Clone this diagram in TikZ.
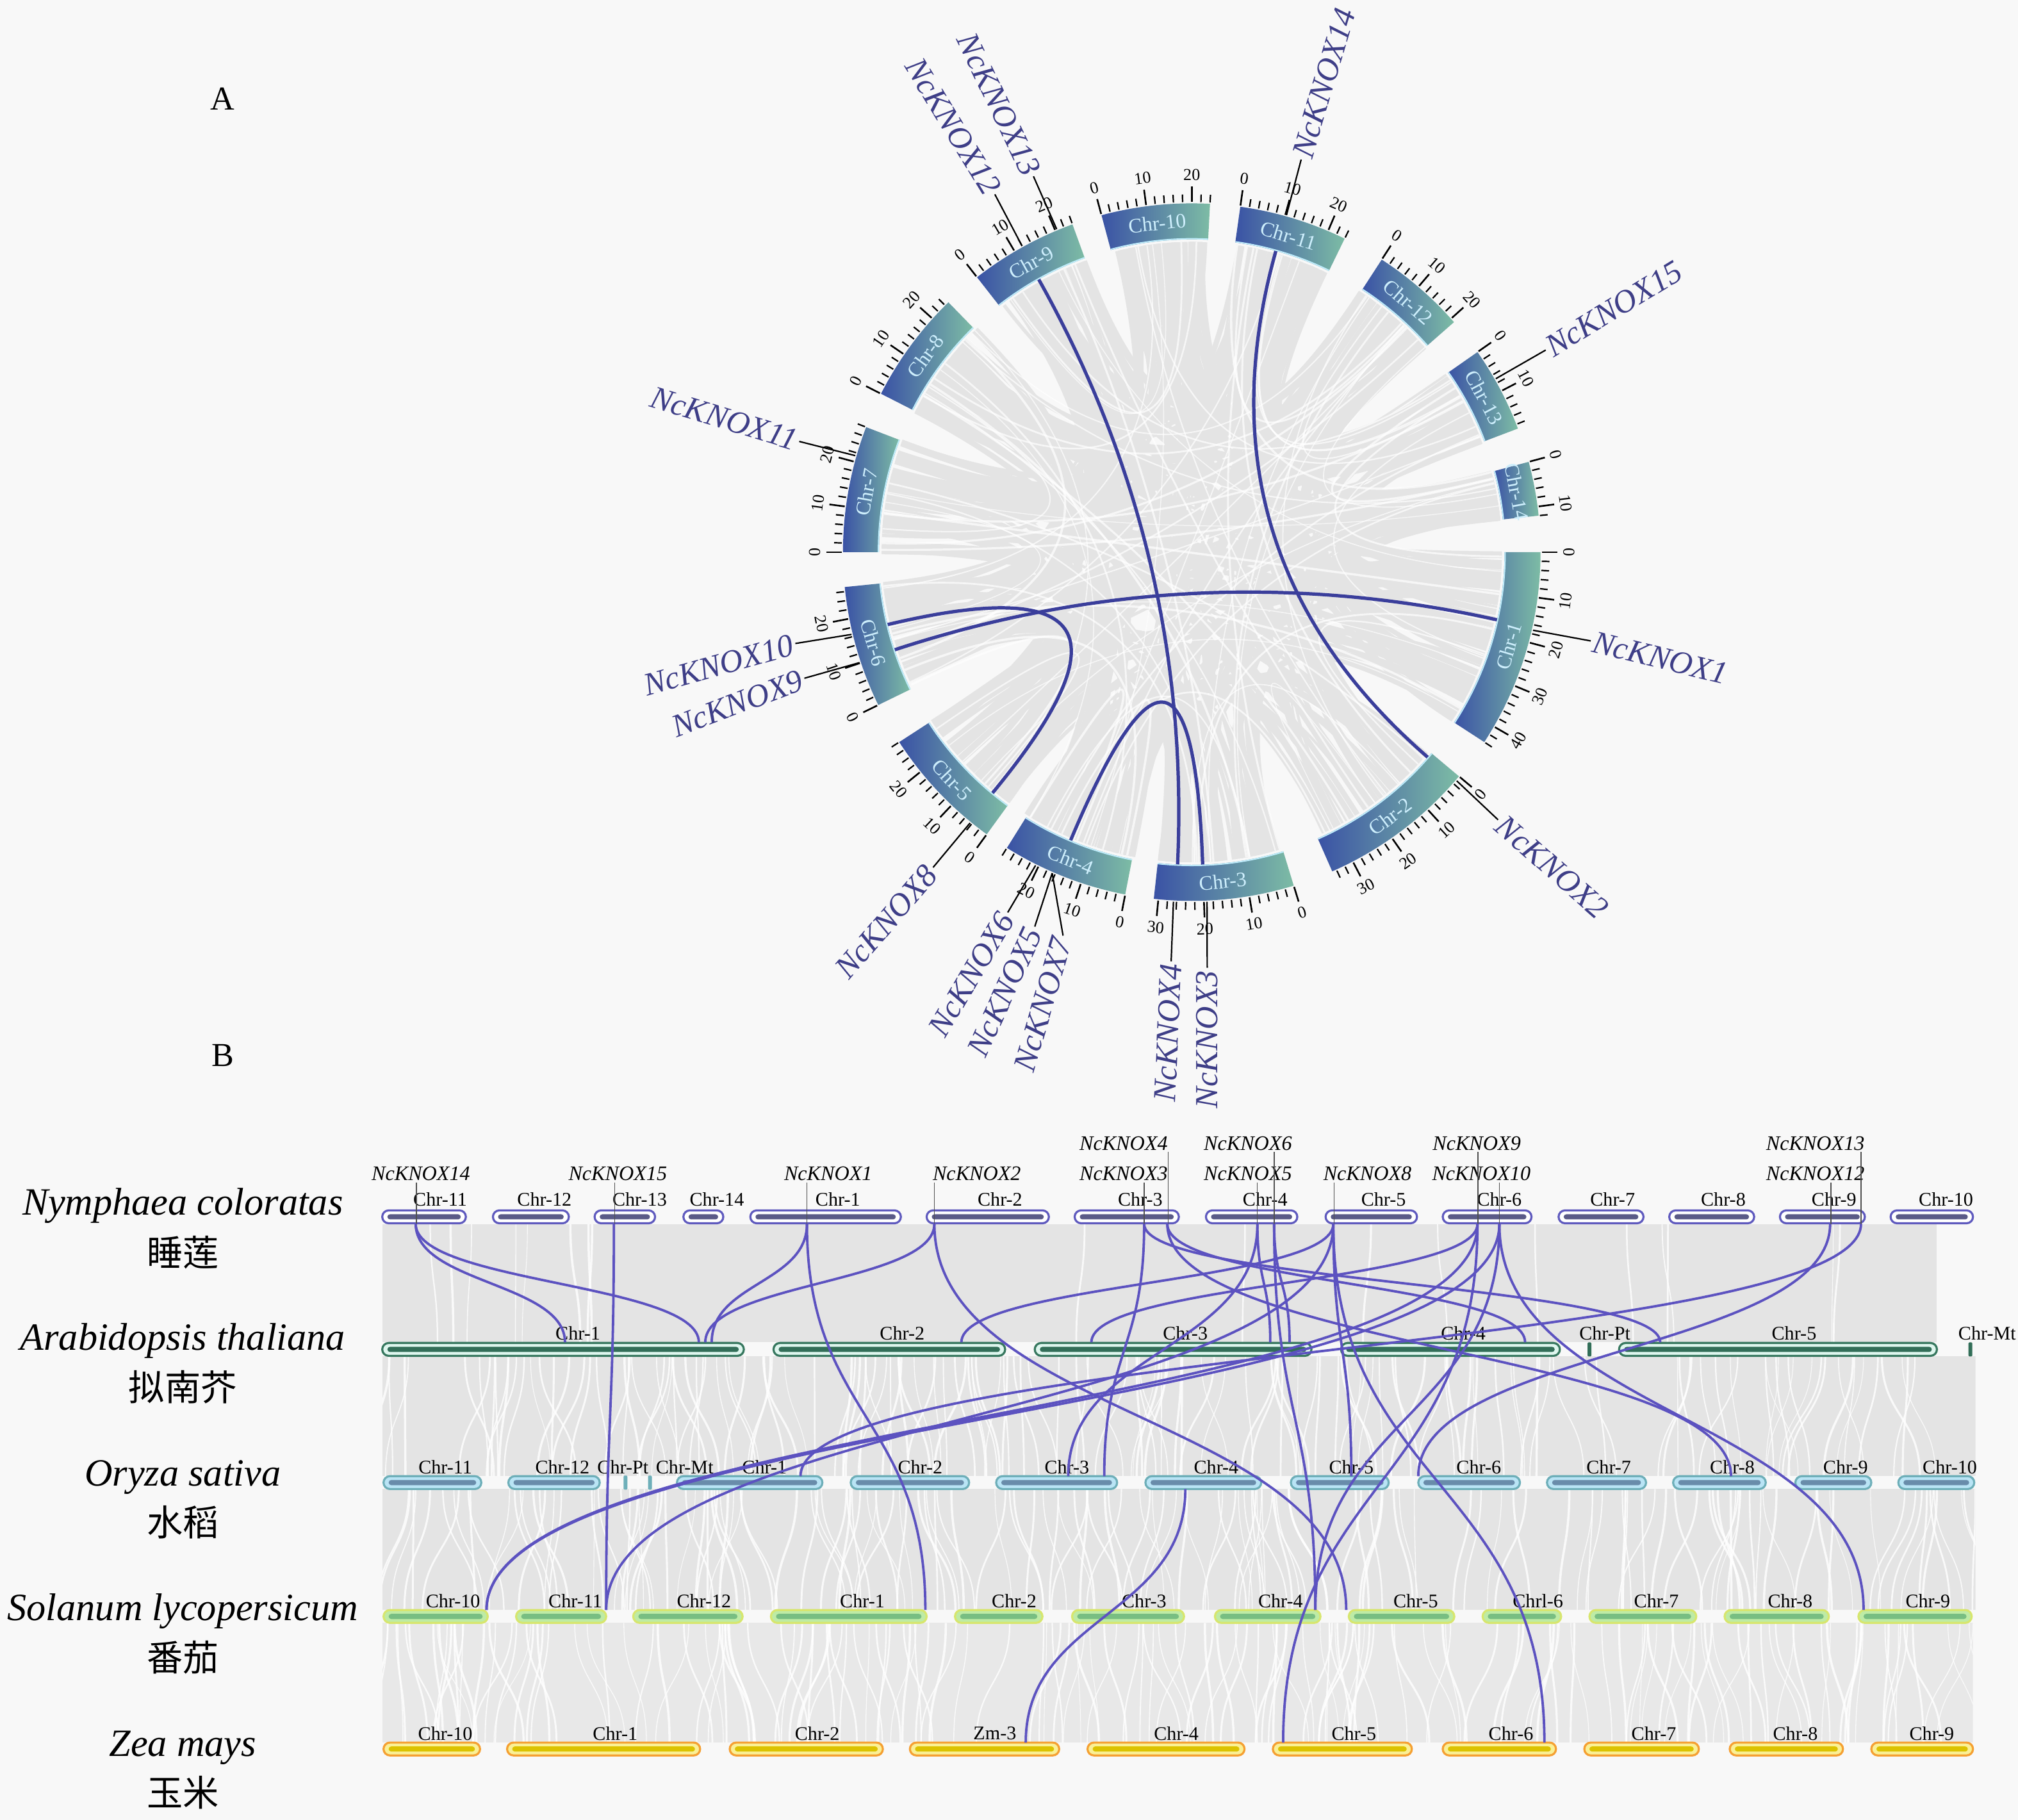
\documentclass[tikz,border=0pt]{standalone}
\usepackage{fontspec}
\setmainfont{Liberation Serif}
\newfontfamily\cjkf{Noto Sans CJK SC}
\usetikzlibrary{calc}
\definecolor{bgc}{RGB}{248,248,248}
\definecolor{ribc}{RGB}{228,228,228}
\definecolor{cA}{RGB}{58,82,165}
\definecolor{cM}{RGB}{92,132,165}
\definecolor{cZ}{RGB}{125,188,165}
\definecolor{rimc}{RGB}{190,235,250}
\definecolor{chrtxt}{RGB}{205,238,252}
\definecolor{glc}{RGB}{62,62,135}
\definecolor{clink}{RGB}{58,62,155}
\definecolor{blinkc}{RGB}{92,82,192}
\definecolor{synbg}{RGB}{228,228,228}
\definecolor{ncE}{RGB}{95,90,190}
\definecolor{ncI}{RGB}{90,90,135}
\definecolor{atE}{RGB}{55,120,95}
\definecolor{atF}{RGB}{222,246,238}
\definecolor{atI}{RGB}{50,110,88}
\definecolor{osE}{RGB}{110,175,185}
\definecolor{osF}{RGB}{185,228,245}
\definecolor{osI}{RGB}{105,140,170}
\definecolor{slE}{RGB}{215,230,110}
\definecolor{slF}{RGB}{190,235,165}
\definecolor{slI}{RGB}{120,190,130}
\definecolor{zmE}{RGB}{245,160,50}
\definecolor{zmF}{RGB}{250,240,150}
\definecolor{zmI}{RGB}{220,195,0}
\tikzset{
  clinkst/.style={draw=clink, line width=2.6pt},
  gline/.style={draw=black, line width=1.1pt},
  glabel/.style={font=\fontsize{25}{25}\selectfont\itshape, text=glc, inner sep=2pt},
  chrname/.style={font=\fontsize{16}{16}\selectfont, text=chrtxt, inner sep=0pt},
  ticklab/.style={font=\fontsize{13}{13}\selectfont, inner sep=0pt},
  tickmaj/.style={draw=black, line width=1.3pt},
  tickmin/.style={draw=black, line width=1.1pt},
  panlab/.style={font=\fontsize{26}{26}\selectfont, inner sep=0pt},
  splab/.style={font=\fontsize{30}{30}\selectfont\itshape, inner sep=0pt},
  cnlab/.style={font=\fontsize{28}{28}\selectfont\cjkf, inner sep=0pt},
  chrlab/.style={font=\fontsize{15}{15}\selectfont, inner sep=0pt},
  bgene/.style={font=\fontsize{16}{16}\selectfont\itshape, inner sep=0pt},
  bgl/.style={draw={rgb,255:red,80;green,80;blue,80}, line width=0.7pt},
  blink/.style={draw=blinkc, line width=1.9pt},
  barout/.style={rectangle, rounded corners=5pt, minimum height=10pt, inner sep=0pt, outer sep=0pt, line width=1.6pt},
  barin/.style={rectangle, rounded corners=2pt, minimum height=4pt, inner sep=0pt, outer sep=0pt},
  ncout/.style={barout, draw=ncE, fill=white},
  ncin/.style={barin, fill=ncI},
  atout/.style={barout, draw=atE, fill=atF},
  atin/.style={barin, fill=atI},
  osout/.style={barout, draw=osE, fill=osF},
  osin/.style={barin, fill=osI},
  slout/.style={barout, draw=slE, fill=slF},
  slin/.style={barin, fill=slI},
  zmout/.style={barout, draw=zmE, fill=zmF},
  zmin/.style={barin, fill=zmI},
  tinybar/.style={rectangle, rounded corners=1pt, minimum width=3pt, minimum height=11pt, inner sep=0pt},
}
\newcommand\chrbar[8]{%
  \pgfmathsetmacro\bw{#4-#3}%
  \pgfmathsetmacro\bx{(#3+#4)/2}%
  \pgfmathsetmacro\iw{#4-#3-8}%
  \node[#1out, minimum width=\bw pt] (#2) at (\bx,-#5) {};%
  \node[#1in, minimum width=\iw pt] (#2i) at (\bx,-#5) {};%
  \node[chrlab] (#2t) at (#6,-#7) {#8};%
}
\newcommand\glab[7]{%
  \coordinate (#1s) at (90-#2:272);
  \coordinate (#1e) at (#3-926,429-#4);
  \draw[gline] (#1s) -- (#1e);
  \node[glabel, rotate=#5, anchor=#6] (#1) at (#1e) {#7};
}
\newcommand\clinkd[2]{\draw[clinkst] (90-#1:243) .. controls (90-#1:81) and (90-#2:81) .. (90-#2:243);}
\newcommand\slink[4]{\draw[blink] (#1,-#2) .. controls (#1,{-(#2+#4)/2}) and (#3,{-(#2+#4)/2}) .. (#3,-#4);}
\newcommand\gapfill[6]{%
  \begin{scope}
    \clip (297,-#1) rectangle (#6,-#2);
    \fill[#4] (297,-#1) rectangle (#6,-#2);
    \foreach \i in {1,...,#3}{
      \pgfmathsetmacro\xa{297+1238*rnd}
      \pgfmathsetmacro\xb{\xa+(rnd-0.5)*#5}
      \pgfmathsetmacro\lw{0.5+1.3*rnd}
      \draw[white, opacity=0.8, line width=\lw pt] (\xa,-#1) .. controls (\xa,{-(#1+#2)/2}) and (\xb,{-(#1+#2)/2}) .. (\xb,-#2);
    }
  \end{scope}}
\begin{document}
\begin{tikzpicture}[x=1pt,y=1pt]
\useasboundingbox (0,0) rectangle (1568,-1414);
\fill[bgc] (0,0) rectangle (1568,-1414);
\pgfmathsetseed{2024}
\node[panlab] (labA) at (173,-77) {A};
\node[panlab] (labB) at (173,-820) {B};
% ================= circos =================
\begin{scope}[shift={(926,-429)}]
  \foreach \i in {1,...,340}{
    \pgfmathtruncatemacro\ca{random(1,14)-1}
    \pgfmathtruncatemacro\cb{random(1,14)-1}
    \pgfmathsetmacro\ta{{90,130,163,191,216,244,270,297,322,345,8,33,55,75}[\ca]+rnd*0.75*{44,35,31,28,28,27,28,25,24,24,24,21,19,12}[\ca]}
    \pgfmathsetmacro\tb{{90,130,163,191,216,244,270,297,322,345,8,33,55,75}[\cb]+rnd*0.75*{44,35,31,28,28,27,28,25,24,24,24,21,19,12}[\cb]}
    \pgfmathsetmacro\lw{1.5+5*rnd}
    \draw[ribc, line width=\lw pt] (90-\ta:241) .. controls (90-\ta:80) and (90-\tb:80) .. (90-\tb:241);
  }
  \foreach \i in {1,...,70}{
    \pgfmathtruncatemacro\ca{random(1,14)-1}
    \pgfmathtruncatemacro\cb{random(1,14)-1}
    \pgfmathsetmacro\ta{{90,130,163,191,216,244,270,297,322,345,8,33,55,75}[\ca]+rnd*0.75*{44,35,31,28,28,27,28,25,24,24,24,21,19,12}[\ca]}
    \pgfmathsetmacro\tb{{90,130,163,191,216,244,270,297,322,345,8,33,55,75}[\cb]+rnd*0.75*{44,35,31,28,28,27,28,25,24,24,24,21,19,12}[\cb]}
    \pgfmathsetmacro\lw{0.6+1.2*rnd}
    \draw[white, opacity=0.7, line width=\lw pt] (90-\ta:241) .. controls (90-\ta:80) and (90-\tb:80) .. (90-\tb:241);
  }
  \clinkd{15.6}{131}
  \clinkd{330.7}{182.6}
  \clinkd{251.8}{102.5}
  \clinkd{256.6}{219.6}
  \clinkd{202.8}{178}
  \foreach \nm/\ts/\len in {1/90/44, 2/130/35, 3/163/31, 4/191/28, 5/216/28, 6/244/27, 7/270/28, 8/297/25, 9/322/24, 10/345/24, 11/8/24, 12/33/21, 13/55/19, 14/75/12}{
    \pgfmathsetmacro\te{\ts+0.75*\len}
    \shade[left color=cA, middle color=cM, right color=cZ] (90-\ts:243) arc[start angle=90-\ts, end angle=90-\te, radius=243] -- (90-\te:271) arc[start angle=90-\te, end angle=90-\ts, radius=271] -- cycle;
    \draw[rimc, line width=1pt] (90-\ts:243.5) arc[start angle=90-\ts, end angle=90-\te, radius=243.5];
    \pgfmathsetmacro\tm{\ts+0.375*\len}
    \pgfmathsetmacro\rt{(\tm>90 && \tm<270) ? 180-\tm : -\tm}
    \node[chrname, rotate=\rt] (chr\nm) at (90-\tm:257) {Chr-\nm};
    \pgfmathtruncatemacro\nt{\len/2}
    \foreach \m in {0,...,\nt}{
      \pgfmathsetmacro\tq{\ts+1.5*\m}
      \pgfmathtruncatemacro\mj{mod(\m,5)==0 ? 1 : 0}
      \ifnum\mj=1
        \draw[tickmaj] (90-\tq:272) -- (90-\tq:284);
        \pgfmathtruncatemacro\tlab{2*\m}
        \pgfmathsetmacro\rot{(\tq>90 && \tq<270) ? 180-\tq : -\tq}
        \node[ticklab, rotate=\rot] at (90-\tq:293) {\tlab};
      \else
        \draw[tickmin] (90-\tq:272) -- (90-\tq:278);
      \fi
    }
  }
  \glab{g14}{15.7}{1011}{124}{73.4}{west}{NcKNOX14}
  \glab{g15}{60.3}{1201}{272}{31.3}{west}{NcKNOX15}
  \glab{g1}{102.9}{1236}{498}{-13.8}{west}{NcKNOX1}
  \glab{g2}{130.8}{1164}{637}{-41.3}{west}{NcKNOX2}
  \glab{g3}{177.5}{938}{752}{90}{east}{NcKNOX3}
  \glab{g4}{183}{910}{747}{87.4}{east}{NcKNOX4}
  \glab{g6}{206.5}{783}{709}{59.5}{east}{NcKNOX6}
  \glab{g5}{203.5}{804}{720}{65.4}{east}{NcKNOX5}
  \glab{g7}{203.5}{826}{727}{73.7}{east}{NcKNOX7}
  \glab{g8}{219.3}{725}{674}{49.2}{east}{NcKNOX8}
  \glab{g10}{256.4}{618}{500}{15.6}{east}{NcKNOX10}
  \glab{g9}{251.6}{625}{527}{20.7}{east}{NcKNOX9}
  \glab{g11}{286}{621}{343}{-17}{east}{NcKNOX11}
  \glab{g12}{331}{773}{151}{-58.5}{east}{NcKNOX12}
  \glab{g13}{337.3}{803}{137}{-64.4}{east}{NcKNOX13}
\end{scope}
% ================= panel B =================
\gapfill{951}{1043}{18}{synbg}{20}{1505}
\gapfill{1054}{1147}{150}{synbg}{60}{1535}
\gapfill{1157}{1251}{160}{synbg}{60}{1535}
\gapfill{1261}{1354}{170}{synbg!85!white}{60}{1533}
% species
\node[splab] (spNc) at (142,-937) {Nymphaea coloratas};
\node[cnlab] (cnNc) at (142,-973) {睡莲};
\node[splab] (spAt) at (142,-1042) {Arabidopsis thaliana};
\node[cnlab] (cnAt) at (142,-1078) {拟南芥};
\node[splab] (spOs) at (142,-1148) {Oryza sativa};
\node[cnlab] (cnOs) at (142,-1183) {水稻};
\node[splab] (spSl) at (142,-1252) {Solanum lycopersicum};
\node[cnlab] (cnSl) at (142,-1288) {番茄};
\node[splab] (spZm) at (142,-1358) {Zea mays};
\node[cnlab] (cnZm) at (142,-1393) {玉米};
% row 1 Nymphaea
\chrbar{nc}{n11}{297}{362}{945.5}{342}{932}{Chr-11}
\chrbar{nc}{n12}{383}{442}{945.5}{423}{932}{Chr-12}
\chrbar{nc}{n13}{462}{509}{945.5}{497}{932}{Chr-13}
\chrbar{nc}{n14}{531}{562}{945.5}{557}{932}{Chr-14}
\chrbar{nc}{n1}{583}{700}{945.5}{651}{932}{Chr-1}
\chrbar{nc}{n2}{720}{815}{945.5}{777}{932}{Chr-2}
\chrbar{nc}{n3}{835}{916}{945.5}{886}{932}{Chr-3}
\chrbar{nc}{n4}{937}{1008}{945.5}{983}{932}{Chr-4}
\chrbar{nc}{n5}{1030}{1101}{945.5}{1075}{932}{Chr-5}
\chrbar{nc}{n6}{1121}{1190}{945.5}{1165}{932}{Chr-6}
\chrbar{nc}{n7}{1211}{1277}{945.5}{1253}{932}{Chr-7}
\chrbar{nc}{n8}{1297}{1363}{945.5}{1339}{932}{Chr-8}
\chrbar{nc}{n9}{1383}{1449}{945.5}{1425}{932}{Chr-9}
\chrbar{nc}{n10}{1469}{1533}{945.5}{1512}{932}{Chr-10}
% row 2 Arabidopsis
\chrbar{at}{a1}{297}{578}{1048.5}{449}{1036}{Chr-1}
\chrbar{at}{a2}{601}{781}{1048.5}{701}{1036}{Chr-2}
\chrbar{at}{a3}{804}{1019}{1048.5}{921}{1036}{Chr-3}
\chrbar{at}{a4}{1042}{1212}{1048.5}{1137}{1036}{Chr-4}
\node[tinybar, fill=atI] (aPt) at (1235,-1048.5) {};
\node[chrlab] (aPtt) at (1247,-1036) {Chr-Pt};
\chrbar{at}{a5}{1258}{1505}{1048.5}{1394}{1036}{Chr-5}
\node[tinybar, fill=atI] (aMt) at (1531,-1048.5) {};
\node[chrlab] (aMtt) at (1544,-1036) {Chr-Mt};
% row 3 Oryza
\chrbar{os}{o11}{298}{374}{1152}{346}{1140}{Chr-11}
\chrbar{os}{o12}{395}{466}{1152}{437}{1140}{Chr-12}
\node[tinybar, fill=osE] (oPt) at (486,-1152) {};
\node[chrlab] (oPtt) at (484,-1140) {Chr-Pt};
\node[tinybar, fill=osE] (oMt) at (505,-1152) {};
\node[chrlab] (oMtt) at (532,-1140) {Chr-Mt};
\chrbar{os}{o1}{526}{639}{1152}{594}{1140}{Chr-1}
\chrbar{os}{o2}{661}{753}{1152}{715}{1140}{Chr-2}
\chrbar{os}{o3}{774}{868}{1152}{829}{1140}{Chr-3}
\chrbar{os}{o4}{890}{980}{1152}{945}{1140}{Chr-4}
\chrbar{os}{o5}{1003}{1079}{1152}{1050}{1140}{Chr-5}
\chrbar{os}{o6}{1102}{1181}{1152}{1149}{1140}{Chr-6}
\chrbar{os}{o7}{1202}{1279}{1152}{1250}{1140}{Chr-7}
\chrbar{os}{o8}{1300}{1372}{1152}{1346}{1140}{Chr-8}
\chrbar{os}{o9}{1395}{1454}{1152}{1434}{1140}{Chr-9}
\chrbar{os}{o10}{1475}{1534}{1152}{1515}{1140}{Chr-10}
% row 4 Solanum
\chrbar{sl}{s10}{298}{379}{1256}{352}{1244}{Chr-10}
\chrbar{sl}{s11}{401}{471}{1256}{447}{1244}{Chr-11}
\chrbar{sl}{s12}{492}{577}{1256}{547}{1244}{Chr-12}
\chrbar{sl}{s1}{599}{720}{1256}{670}{1244}{Chr-1}
\chrbar{sl}{s2}{742}{810}{1256}{788}{1244}{Chr-2}
\chrbar{sl}{s3}{833}{920}{1256}{889}{1244}{Chr-3}
\chrbar{sl}{s4}{944}{1026}{1256}{995}{1244}{Chr-4}
\chrbar{sl}{s5}{1048}{1130}{1256}{1100}{1244}{Chr-5}
\chrbar{sl}{s6}{1152}{1213}{1256}{1195}{1244}{Chrl-6}
\chrbar{sl}{s7}{1235}{1318}{1256}{1287}{1244}{Chr-7}
\chrbar{sl}{s8}{1340}{1421}{1256}{1391}{1244}{Chr-8}
\chrbar{sl}{s9}{1444}{1532}{1256}{1498}{1244}{Chr-9}
% row 5 Zea
\chrbar{zm}{z10}{298}{373}{1359}{346}{1347}{Chr-10}
\chrbar{zm}{z1}{394}{544}{1359}{478}{1347}{Chr-1}
\chrbar{zm}{z2}{567}{686}{1359}{635}{1347}{Chr-2}
\chrbar{zm}{z3}{707}{823}{1359}{773}{1347}{Zm-3}
\chrbar{zm}{z4}{845}{967}{1359}{914}{1347}{Chr-4}
\chrbar{zm}{z5}{989}{1097}{1359}{1052}{1347}{Chr-5}
\chrbar{zm}{z6}{1121}{1209}{1359}{1174}{1347}{Chr-6}
\chrbar{zm}{z7}{1231}{1320}{1359}{1285}{1347}{Chr-7}
\chrbar{zm}{z8}{1344}{1432}{1359}{1395}{1347}{Chr-8}
\chrbar{zm}{z9}{1454}{1533}{1359}{1501}{1347}{Chr-9}
% gene labels panel B
\node[bgene] (b14) at (327,-912) {NcKNOX14};
\node[bgene] (b15) at (480,-912) {NcKNOX15};
\node[bgene] (b1) at (643.5,-912) {NcKNOX1};
\node[bgene] (b2) at (759,-912) {NcKNOX2};
\node[bgene] (b4) at (873,-888.5) {NcKNOX4};
\node[bgene] (b3) at (873,-912) {NcKNOX3};
\node[bgene] (b6) at (969.6,-888.5) {NcKNOX6};
\node[bgene] (b5) at (969.6,-912) {NcKNOX5};
\node[bgene] (b8) at (1062.5,-912) {NcKNOX8};
\node[bgene] (b9) at (1147.4,-888.5) {NcKNOX9};
\node[bgene] (b10) at (1151,-912) {NcKNOX10};
\node[bgene] (b13) at (1410.5,-888.5) {NcKNOX13};
\node[bgene] (b12) at (1410.5,-912) {NcKNOX12};
\draw[bgl] (323.5,-919) -- (323.5,-951);
\draw[bgl] (477.5,-919) -- (477.5,-951);
\draw[bgl] (627,-919) -- (627,-951);
\draw[bgl] (726,-919) -- (726,-951);
\draw[bgl] (907.6,-895) -- (907.6,-951);
\draw[bgl] (889,-919) -- (889,-951);
\draw[bgl] (990,-895) -- (990,-951);
\draw[bgl] (977,-919) -- (977,-951);
\draw[bgl] (1036.6,-919) -- (1036.6,-951);
\draw[bgl] (1148.4,-895) -- (1148.4,-951);
\draw[bgl] (1165,-919) -- (1165,-951);
\draw[bgl] (1446,-895) -- (1446,-951);
\draw[bgl] (1422.6,-919) -- (1422.6,-951);
% links panel B
\slink{323}{951}{439}{1043}
\slink{323}{951}{543}{1043}
\slink{627}{951}{553}{1043}
\slink{726}{951}{548}{1043}
\slink{1036}{951}{747}{1043}
\slink{889}{951}{1290}{1043}
\slink{907}{951}{1185}{1043}
\slink{977}{951}{987}{1043}
\slink{990}{951}{1002}{1043}
\slink{1148}{951}{848}{1043}
\slink{1422}{951}{1102}{1147}
\slink{1446}{951}{622}{1147}
\slink{477}{951}{471}{1251}
\slink{627}{951}{719}{1251}
\slink{889}{951}{858}{1147}
\slink{726}{951}{1046}{1251}
\slink{1165}{951}{378}{1251}
\slink{1148}{951}{378}{1251}
\slink{1036}{951}{471}{1251}
\slink{1165}{951}{1448}{1251}
\slink{907}{951}{1345}{1147}
\slink{1036}{951}{1200}{1354}
\slink{1148}{951}{997}{1354}
\slink{1165}{951}{1022}{1251}
\slink{990}{951}{1022}{1251}
\slink{1036}{951}{1050}{1147}
\slink{921}{1157}{797}{1354}
\slink{977}{951}{830}{1147}
\end{tikzpicture}
\end{document}
